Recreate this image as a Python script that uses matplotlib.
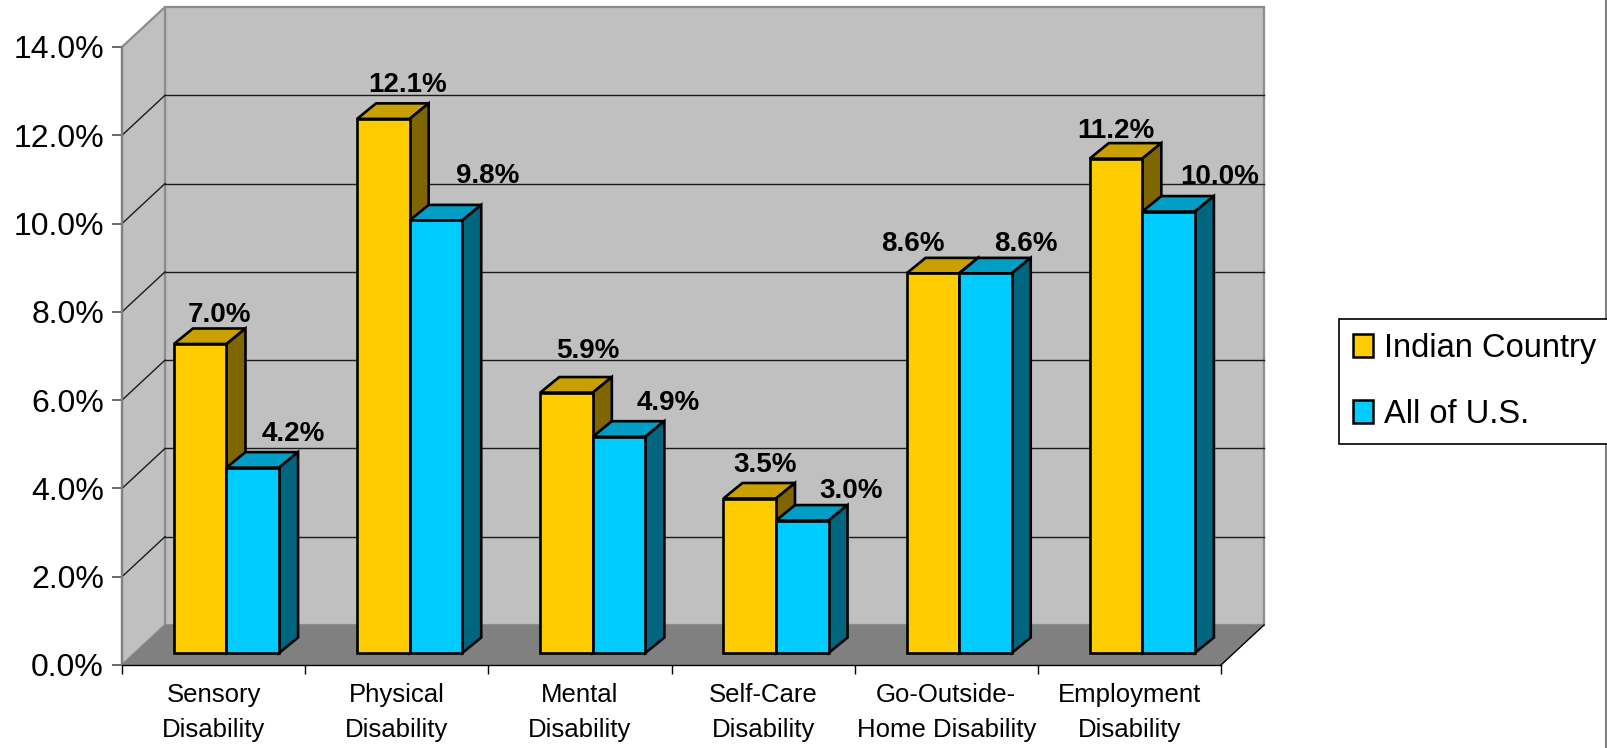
import matplotlib
matplotlib.use("Agg")
import matplotlib.pyplot as plt
from matplotlib import font_manager
from matplotlib.patches import Polygon, Patch
from matplotlib.lines import Line2D
import numpy as np

# ---- data -------------------------------------------------------------
categories = ["Sensory\nDisability", "Physical\nDisability", "Mental\nDisability",
              "Self-Care\nDisability", "Go-Outside-\nHome Disability",
              "Employment\nDisability"]
indian_country = [7.0, 12.1, 5.9, 3.5, 8.6, 11.2]
all_us = [4.2, 9.8, 4.9, 3.0, 8.6, 10.0]
series_names = ["Indian Country", "All of U.S."]
y_ticks = [0, 2, 4, 6, 8, 10, 12, 14]

# value-label placement relative to each bar's front top edge (pixels)
label_shift_x = {"Indian Country": [19, 24, 21, 15, -20, 0],
                 "All of U.S.": [41, 52, 49, 49, 40, 51]}
label_shift_y = {"Indian Country": [22, 27, 35, 27, 22, 21],
                 "All of U.S.": [27, 37, 27, 23, 22, 28]}

# ---- fonts ------------------------------------------------------------
plt.rcParams["font.family"] = ["Liberation Sans", "DejaVu Sans"]
installed = {f.name for f in font_manager.fontManager.ttflist}
if "Liberation Sans Narrow" in installed:
    narrow = ["Liberation Sans Narrow", "Liberation Sans"]
    value_fs, legend_fs = 23, 28.5
else:
    narrow = ["Liberation Sans", "DejaVu Sans"]
    value_fs, legend_fs = 20, 23.5

# ---- style ------------------------------------------------------------
colors = {
    "Indian Country": ("#FFCC00", "#C9A000", "#806600"),   # front, top, side
    "All of U.S.": ("#00CCFF", "#009DC4", "#006680"),
}
WALL = "#C0C0C0"
FLOOR = "#808080"
EDGE_GRAY = "#8C8C8C"

W, H, DPI = 1608, 748, 100
fig = plt.figure(figsize=(W / DPI, H / DPI), dpi=DPI)
fig.patch.set_facecolor("white")
AX_L, AX_R, AX_T, AX_B = 122, 1221, 47, 665
ax = fig.add_axes([AX_L / W, 1 - AX_B / H, (AX_R - AX_L) / W, (AX_B - AX_T) / H])
ncat = len(categories)
ymax = y_ticks[-1]
ax.set_xlim(0, ncat)
ax.set_ylim(0, ymax)
ax.patch.set_visible(False)
px_x = (AX_R - AX_L) / ncat      # pixels per category unit
px_y = (AX_B - AX_T) / ymax      # pixels per percent

# oblique projection of the plot box: full depth shifts by (DX, DY)
DX, DY = 43 / px_x, 40 / px_y


def proj(x, y, z):
    return (x + z * DX, y + z * DY)


def poly(pts, fc, ec, lw, z):
    p = Polygon(pts, closed=True, facecolor=fc, edgecolor=ec, linewidth=lw,
                joinstyle="miter", clip_on=False, zorder=z)
    ax.add_patch(p)


# walls and floor
poly([proj(0, 0, 1), proj(ncat, 0, 1), proj(ncat, ymax, 1), proj(0, ymax, 1)],
     WALL, EDGE_GRAY, 1.6, 0.5)
poly([proj(0, 0, 0), proj(0, 0, 1), proj(0, ymax, 1), proj(0, ymax, 0)],
     WALL, EDGE_GRAY, 1.6, 0.6)
poly([proj(0, 0, 0), proj(ncat, 0, 0), proj(ncat, 0, 1), proj(0, 0, 1)],
     FLOOR, "none", 0, 0.7)
fx, fy = zip(proj(ncat, 0, 0), proj(ncat, 0, 1))
ax.add_line(Line2D(fx, fy, color="black", lw=1.0, clip_on=False, zorder=0.8))

# gridlines on the back and left walls
for t in y_ticks[1:-1]:
    gx, gy = zip(proj(0, t, 1), proj(ncat, t, 1))
    ax.add_line(Line2D(gx, gy, color="#1a1a1a", lw=1.0, clip_on=False, zorder=0.9))
    lx, ly = zip(proj(0, t, 0), proj(0, t, 1))
    ax.add_line(Line2D(lx, ly, color="#1a1a1a", lw=1.0, clip_on=False, zorder=0.9))

# bars: front face sits 0.3 deep in the box; the box itself is shallower
BAR_W = 0.287
Z0 = 0.3
BDX, BDY = 19 / px_x, 15.5 / px_y
LW = 1.9


def draw_bar(x0, x1, h, cols, z):
    front, top, side = cols
    a0 = proj(x0, 0, Z0)
    a1 = proj(x1, 0, Z0)
    b0 = proj(x0, h, Z0)
    b1 = proj(x1, h, Z0)

    def back(p):
        return (p[0] + BDX, p[1] + BDY)

    poly([b0, b1, back(b1), back(b0)], top, "black", LW, z)
    poly([a1, back(a1), back(b1), b1], side, "black", LW, z)
    poly([a0, a1, b1, b0], front, "black", LW, z + 0.01)


for i in range(ncat):
    c = i + 0.5
    for k, (name, vals) in enumerate(zip(series_names, [indian_country, all_us])):
        x0 = c - BAR_W + k * BAR_W
        x1 = x0 + BAR_W
        v = vals[i]
        draw_bar(x0, x1, v, colors[name], 3 + k * 0.1 + i * 0.2)
        fx0, fy0 = proj((x0 + x1) / 2, v, Z0)
        lx = fx0 + label_shift_x[name][i] / px_x
        ly = fy0 + label_shift_y[name][i] / px_y
        ax.text(lx, ly, f"{v:.1f}%", ha="center", va="baseline",
                fontsize=value_fs, fontweight="bold", family=narrow,
                color="black", zorder=10, clip_on=False)

# axes
ax.set_yticks(y_ticks)
ax.set_yticklabels([f"{t:.1f}%" for t in y_ticks])
ax.tick_params(axis="y", length=7, width=1.2, color="#505050", labelsize=23,
               pad=6)
ax.set_xticks(np.arange(ncat + 1))
ax.set_xticklabels([])
ax.tick_params(axis="x", which="major", length=6.5, width=1.0, color="black")
ax.set_xticks(np.arange(ncat) + 0.5, minor=True)
ax.set_xticklabels(categories, minor=True, fontsize=18.5, linespacing=1.6)
ax.tick_params(axis="x", which="minor", length=0, pad=13)

for s in ("top", "right"):
    ax.spines[s].set_visible(False)
ax.spines["left"].set_color("#808080")
ax.spines["left"].set_linewidth(1.6)
ax.spines["bottom"].set_color("black")
ax.spines["bottom"].set_linewidth(1.0)

# legend
handles = [Patch(facecolor=colors[n][0], edgecolor="black", linewidth=1.8)
           for n in series_names]
leg = fig.legend(handles, series_names, loc="upper left",
                 bbox_to_anchor=(1339 / W, 1 - 319 / H),
                 bbox_transform=fig.transFigure, frameon=True, fancybox=False,
                 edgecolor="black", framealpha=1,
                 prop={"family": narrow, "size": legend_fs},
                 handlelength=0.62 * 23.5 / legend_fs,
                 handleheight=0.7 * 23.5 / legend_fs,
                 handletextpad=0.35 * 23.5 / legend_fs,
                 borderpad=0.42 * 23.5 / legend_fs,
                 labelspacing=1.08 * 23.5 / legend_fs, borderaxespad=0)
leg.get_frame().set_linewidth(1.2)

# chart-area border on the right
fig.add_artist(Line2D([1606 / W, 1606 / W], [0, 1], color="#808080", lw=1.5,
                      transform=fig.transFigure))

fig.savefig("out.png", dpi=DPI)
